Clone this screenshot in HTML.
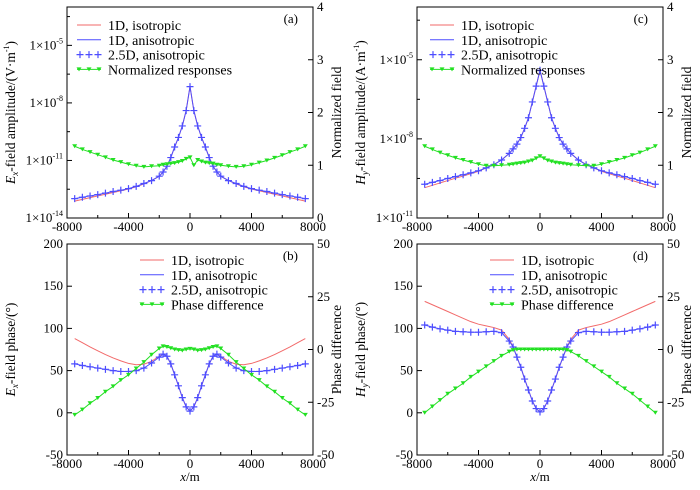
<!DOCTYPE html>
<html><head><meta charset="utf-8"><style>
html,body{margin:0;padding:0;background:#fff;font-family:"Liberation Serif","Times New Roman",serif;}
svg, svg text{font-family:"Liberation Serif","Times New Roman",serif;}
</style></head><body>
<svg id="fig" width="700" height="485" viewBox="0 0 700 485" font-family="Liberation Serif, Times New Roman, serif" xmlns="http://www.w3.org/2000/svg"></svg>
<script>
const xs=[-7500,-7000,-6500,-6000,-5500,-5000,-4500,-4000,-3500,-3000,-2500,-2000,-1750,-1500,-1250,-1000,-750,-500,-250,0,250,500,750,1000,1250,1500,1750,2000,2500,3000,3500,4000,4500,5000,5500,6000,6500,7000,7500];
const xTicks=[-8000,-4000,0,4000,8000];
// panel a (log10 amplitude)
const aIso=[-13.12,-13.03,-12.94,-12.85,-12.76,-12.67,-12.58,-12.49,-12.37,-12.22,-12.05,-11.82,-11.6,-11.3,-10.85,-10.3,-9.8,-9.2,-8.4,-7.15,-8.4,-9.2,-9.8,-10.3,-10.85,-11.3,-11.6,-11.82,-12.05,-12.22,-12.37,-12.49,-12.58,-12.67,-12.76,-12.85,-12.94,-13.03,-13.12];
const aAni=[-12.99,-12.92,-12.85,-12.78,-12.7,-12.62,-12.55,-12.47,-12.35,-12.2,-12.05,-11.82,-11.6,-11.3,-10.85,-10.3,-9.8,-9.2,-8.4,-7.15,-8.4,-9.2,-9.8,-10.3,-10.85,-11.3,-11.6,-11.82,-12.05,-12.2,-12.35,-12.47,-12.55,-12.62,-12.7,-12.78,-12.85,-12.92,-12.99];
const aNorm=[1.36,1.3,1.25,1.2,1.15,1.1,1.06,1.02,0.99,0.97,0.98,0.99,1.01,1.02,1.03,1.04,1.06,1.08,1.12,1.15,1.0,1.1,1.07,1.05,1.04,1.03,1.01,1.0,0.98,0.97,0.98,1.01,1.05,1.09,1.14,1.19,1.25,1.3,1.36];
// panel c
const cIso=[-9.85,-9.76,-9.67,-9.58,-9.49,-9.41,-9.32,-9.23,-9.1,-8.97,-8.8,-8.55,-8.38,-8.2,-7.95,-7.6,-7.2,-6.6,-6.0,-5.4,-6.0,-6.6,-7.2,-7.6,-7.95,-8.2,-8.38,-8.55,-8.8,-8.97,-9.1,-9.23,-9.32,-9.41,-9.49,-9.58,-9.67,-9.76,-9.85];
const cAni=[-9.72,-9.65,-9.58,-9.5,-9.43,-9.36,-9.29,-9.21,-9.1,-8.98,-8.8,-8.55,-8.38,-8.2,-7.95,-7.6,-7.2,-6.6,-6.0,-5.4,-6.0,-6.6,-7.2,-7.6,-7.95,-8.2,-8.38,-8.55,-8.8,-8.98,-9.1,-9.21,-9.29,-9.36,-9.43,-9.5,-9.58,-9.65,-9.72];
const cNorm=[1.36,1.3,1.24,1.19,1.14,1.1,1.06,1.02,0.99,0.99,1.0,1.01,1.02,1.03,1.04,1.05,1.07,1.09,1.13,1.17,1.13,1.09,1.07,1.05,1.04,1.03,1.02,1.01,1.0,0.99,0.99,1.02,1.06,1.1,1.14,1.19,1.24,1.3,1.36];
// panel b (phase)
const bIso=[88,83,78,73.5,69,65,61.5,58.5,57,57.5,61,67,69.5,67,58,45,32,18,7,2,7,18,32,45,58,67,69.5,67,61,57.5,57,58.5,61.5,65,69,73.5,78,83,88];
const bAni=[58,56,54.5,53,51.5,50,49,49,50,53,59,66,69.5,67,58,45,32,18,7,2,7,18,32,45,58,67,69.5,66,59,53,50,49,49,50,51.5,53,54.5,56,58];
const bDiff=[-31,-28.5,-25.5,-23,-20,-17.5,-14.5,-12,-9,-6,-2.5,0.5,1.5,1.2,0.6,0,-0.3,-0.5,0,0.3,0,-0.5,-0.3,0,0.6,1.2,1.5,0.5,-2.5,-6,-9,-12,-14.5,-17.5,-20,-23,-25.5,-28.5,-31];
// panel d
const dIso=[132,128,124,120,116,112,108,105,103,101,98,87,78,66,54,40,27,14,5,1,5,14,27,40,54,66,78,87,98,101,103,105,108,112,116,120,124,128,132];
const dAni=[104,101.5,99.5,98,96.5,96,95.5,95.5,96,96.5,95,85,78,66,54,40,27,14,5,1,5,14,27,40,54,66,78,85,95,96.5,96,95.5,95.5,96,96.5,98,99.5,101.5,104];
const dDiff=[-30,-27,-24,-21,-18.5,-16,-13,-10.5,-8,-5.5,-3,-1,-0.3,0,0,0,0,0,0,0,0,0,0,0,0,0,-0.3,-1,-3,-5.5,-8,-10.5,-13,-16,-18.5,-21,-24,-27,-30];
const logTicks=[-14,-11,-8,-5];
const logTicksC=[-11,-8,-5];
const normTicks=[0,1,2,3,4];
const phaseTicks=[-50,0,50,100,150,200];
const diffTicks=[-50,-25,0,25,50];

const NS="http://www.w3.org/2000/svg";
const svg=document.getElementById('fig');
function el(tag,attrs,parent,text){const e=document.createElementNS(NS,tag);for(const k in attrs)e.setAttribute(k,attrs[k]);if(text!==undefined)e.textContent=text;(parent||svg).appendChild(e);return e;}
const RED="#f26a6a",BLUE="#4d4dff",GREEN="#22e022";
const FF="Liberation Serif, Times New Roman, serif";

function panel(o){
  const g=el('g',{'font-family':FF});
  
  
  const L=o.L,R=o.R,T=o.T,B=o.B;
  const X=v=>L+(v+8000)/16000*(R-L);
  const YL=v=>B-(v-o.lmin)/(o.lmax-o.lmin)*(B-T);
  const YR=v=>B-(v-o.rmin)/(o.rmax-o.rmin)*(B-T);
  const frame=el('rect',{x:L,y:T,width:R-L,height:B-T,fill:'none',stroke:'#000','stroke-width':1},g);
  
  
  for(let v=-8000;v<=8000;v+=2000){el('line',{x1:X(v),x2:X(v),y1:B,y2:B-(v%4000===0?5:3),stroke:'#000'},g);}
  xTicks.forEach(v=>{const t=el('text',{x:X(v),y:B+13,'font-size':13,'text-anchor':'middle','font-family':FF},g,String(v));
    
    });
  if(o.xlabel){const t=el('text',{x:(L+R)/2,y:B+26,'font-size':13,'text-anchor':'middle','font-family':FF},g);
    
    
    el('tspan',{'font-style':'italic'},t,'x');el('tspan',{},t,'/m');}
  o.lticks.forEach(v=>{el('line',{x1:L,x2:L+5,y1:YL(v),y2:YL(v),stroke:'#000'},g);
    const t=el('text',{x:L-4,y:YL(v)+4,'font-size':13,'text-anchor':'end','font-family':FF},g);
    
    
    if(o.log){el('tspan',{},t,'1×10');el('tspan',{'font-size':8,dy:-6},t,String(v));}else t.textContent=String(v);
  });
  if(o.minorL)o.minorL.forEach(v=>el('line',{x1:L,x2:L+3,y1:YL(v),y2:YL(v),stroke:'#000'},g));
  o.rticks.forEach(v=>{el('line',{x1:R,x2:R-5,y1:YR(v),y2:YR(v),stroke:'#000'},g);
    const t=el('text',{x:R+4,y:YR(v)+4,'font-size':13,'font-family':FF},g,String(v));
    
    });
  const lt=el('text',{transform:`translate(${L-52},${(T+B)/2}) rotate(-90)`,'font-size':13.5,'text-anchor':'middle','font-family':FF},g);
  
  
  el('tspan',{'font-style':'italic'},lt,o.ltitle[0]);el('tspan',{'font-size':9,dy:3,'font-style':'italic'},lt,o.ltitle[1]);
  el('tspan',{dy:-3},lt,o.ltitle[2]);
  if(o.ltitle[3]){el('tspan',{'font-size':8,dy:-6},lt,'-1');el('tspan',{dy:6},lt,')');}
  const rt=el('text',{transform:`translate(${R+28},${(T+B)/2}) rotate(-90)`,'font-size':13.5,'text-anchor':'middle','font-family':FF},g,o.rtitle);
  
  
  const pl=el('text',{x:R-15,y:T+16,'font-size':13,'text-anchor':'end','font-family':FF},g,o.tag);
  
  
  const line=(arr,Y,col,name)=>{const p=el('polyline',{points:xs.map((x,i)=>X(x)+','+Y(arr[i])).join(' '),fill:'none',stroke:col,'stroke-width':1},g);
    
    };
  line(o.iso,YL,RED,'series-1d-isotropic');
  line(o.ani,YL,BLUE,'series-1d-anisotropic');
  const cg=el('g',{stroke:BLUE,'stroke-width':1.2},g);
  
  
  xs.forEach((x,i)=>{const cx=X(x),cy=YL(o.ani[i]);el('path',{d:`M${cx-3.5},${cy}h7M${cx},${cy-3.5}v7`},cg);});
  line(o.g,YR,GREEN,'series-'+o.gname);
  const tg=el('g',{fill:GREEN},g);
  
  
  xs.forEach((x,i)=>{const cx=X(x),cy=YR(o.g[i]);el('path',{d:`M${cx-2.5},${cy-2}h5l-2.5,4z`},tg);});
  const lg=el('g',{'font-size':14,'font-family':FF},g);
  
  
  const lx=L+o.lgx, ly=T+o.lgy;
  const items=[['1D, isotropic',RED,0],['1D, anisotropic',BLUE,0],['2.5D, anisotropic',BLUE,1],[o.glabel,GREEN,2]];
  items.forEach((it,k)=>{const y=ly+k*14.8;
    const e=el('g',{},lg);
    
    
    if(it[2]===0)el('line',{x1:lx,x2:lx+24,y1:y,y2:y,stroke:it[1]},e);
    else if(it[2]===1){[lx+3,lx+12,lx+21].forEach(cx=>el('path',{d:`M${cx-3.5},${y}h7M${cx},${y-3.5}v7`,stroke:it[1],'stroke-width':1.2},e));}
    else{el('line',{x1:lx,x2:lx+24,y1:y,y2:y,stroke:it[1]},e);[lx+2,lx+12,lx+22].forEach(cx=>el('path',{d:`M${cx-2.5},${y-2}h5l-2.5,4z`,fill:it[1]},e));}
    el('text',{x:lx+31,y:y+5,'font-family':FF},e,it[0]);
  });
}
panel({name:'panel-a',L:67,R:313,T:7,B:218,lmin:-14,lmax:-3,rmin:0,rmax:4,log:true,lticks:logTicks,minorL:[-12.5,-9.5,-6.5,-3.5],rticks:normTicks,
  ltitle:['E','x','-field amplitude/(V·m',1],rtitle:'Normalized field',tag:'(a)',iso:aIso,ani:aAni,g:aNorm,gname:'normalized-responses',glabel:'Normalized responses',lgx:10,lgy:18});
panel({name:'panel-b',L:67,R:313,T:244,B:455,lmin:-50,lmax:200,rmin:-50,rmax:50,lticks:phaseTicks,rticks:diffTicks,xlabel:true,
  ltitle:['E','x','-field phase/(°)'],rtitle:'Phase difference',tag:'(b)',iso:bIso,ani:bAni,g:bDiff,gname:'phase-difference',glabel:'Phase difference',lgx:73,lgy:16});
panel({name:'panel-c',L:417,R:663,T:7,B:218,lmin:-11,lmax:-3,rmin:0,rmax:4,log:true,lticks:logTicksC,minorL:[-9.5,-6.5,-3.5],rticks:normTicks,
  ltitle:['H','y','-field amplitude/(A·m',1],rtitle:'Normalized field',tag:'(c)',iso:cIso,ani:cAni,g:cNorm,gname:'normalized-responses',glabel:'Normalized responses',lgx:13,lgy:18});
panel({name:'panel-d',L:417,R:663,T:244,B:455,lmin:-50,lmax:200,rmin:-50,rmax:50,lticks:phaseTicks,rticks:diffTicks,xlabel:true,
  ltitle:['H','y','-field phase/(°)'],rtitle:'Phase difference',tag:'(d)',iso:dIso,ani:dAni,g:dDiff,gname:'phase-difference',glabel:'Phase difference',lgx:73,lgy:16});
</script>
</body></html>
